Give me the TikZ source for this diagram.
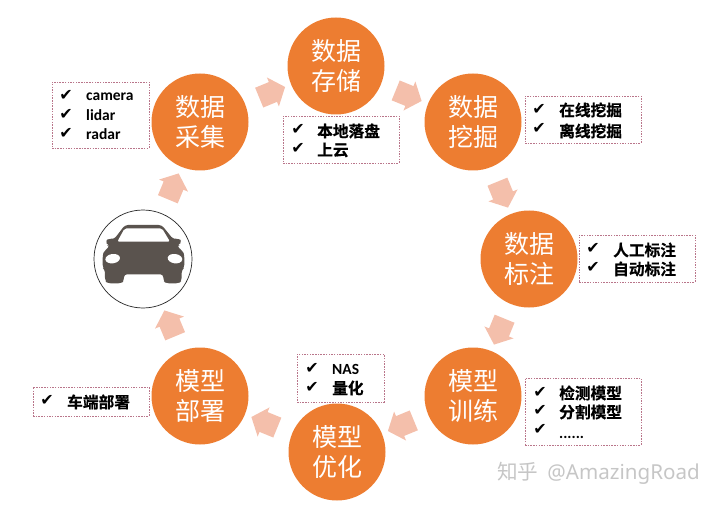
\documentclass[tikz,border=0pt]{standalone}
\usepackage{fontspec}
\usetikzlibrary{shapes.arrows,calc}
\setmainfont{Carlito}
\newfontfamily\cjkfont{Noto Sans CJK SC}[BoldFont={Noto Sans CJK SC Bold},BoldFeatures={FakeBold=0.6}]
\newfontfamily\checkfont{DejaVu Sans}
\newfontfamily\wmfont{Noto Sans}
\definecolor{stepfill}{HTML}{ED7D31}
\definecolor{arrowfill}{HTML}{F4BFAB}
\definecolor{boxline}{HTML}{B9758A}
\definecolor{carfill}{HTML}{5A534E}
\definecolor{wmgray}{HTML}{C6C6C6}
\tikzset{
  x=1pt,y=-1pt,
  stepnode/.style={circle,fill=stepfill,text=white,minimum size=97pt,inner sep=0pt,align=center,
    font=\cjkfont\fontsize{25}{30}\selectfont},
  listbox/.style={draw=boxline,densely dashed,dash pattern=on 1.5pt off 1.2pt,line width=0.6pt,inner sep=0pt,fill=white},
  tick/.style={inner sep=0pt,font=\checkfont\fontsize{16}{16}\selectfont},
  itemcn/.style={anchor=west,inner sep=0pt,font=\cjkfont\bfseries\fontsize{15.7}{16}\selectfont},
  itemen/.style={anchor=west,inner sep=0pt,font=\bfseries\fontsize{15.5}{16}\selectfont},
  flowarrow/.style={single arrow,fill=arrowfill,inner xsep=0pt,inner ysep=10.5pt,minimum width=31pt,minimum height=28pt,
    single arrow head extend=5pt,single arrow tip angle=100}
}
\newcommand{\flowstep}[2]{\path let \p1=($(#2)-(#1)$),\n1={atan2(\y1,\x1)} in
  ($(#1)!0.5!(#2)$) node[flowarrow,rotate=\n1] (arr#1) {};}
\begin{document}
\begin{tikzpicture}
\useasboundingbox (0,0) rectangle (720,505);
% list boxes
\node[listbox,minimum width=97pt,minimum height=66pt] (b1) at (100.5,115) {};
\node[listbox,minimum width=116pt,minimum height=47pt] (b2) at (341,139.5) {};
\node[listbox,minimum width=116pt,minimum height=47pt] (b3) at (583,119.5) {};
\node[listbox,minimum width=116pt,minimum height=47pt] (b4) at (637,258.5) {};
\node[listbox,minimum width=116pt,minimum height=67pt] (b5) at (583,411.5) {};
\node[listbox,minimum width=87pt,minimum height=48pt] (b6) at (340.5,378) {};
\node[listbox,minimum width=116pt,minimum height=29pt] (b7) at (91,401.5) {};
% circles
\node[stepnode] (s1) at (200,122) {数据\\采集};
\node[stepnode] (s2) at (336,66) {数据\\存储};
\node[stepnode] (s3) at (473,122) {数据\\挖掘};
\node[stepnode] (s4) at (529,259) {数据\\标注};
\node[stepnode] (s5) at (473,396) {模型\\训练};
\node[stepnode] (s6) at (337,452) {模型\\优化};
\node[stepnode] (s7) at (200,396) {模型\\部署};
\node[circle,draw=black!85,line width=0.7pt,fill=white,minimum size=98pt,inner sep=0pt] (car) at (143,259) {};
% arrows
\flowstep{car}{s1}
\flowstep{s1}{s2}
\flowstep{s2}{s3}
\flowstep{s3}{s4}
\flowstep{s4}{s5}
\flowstep{s5}{s6}
\flowstep{s6}{s7}
\flowstep{s7}{car}
% car icon
\begin{scope}[shift={(80,170)},x=0.3333pt,y=-0.3333pt]
  \fill[carfill,rounded corners=3pt] (135,165) -- (245,165) -- (280,208) -- (296,205) -- (306,214) -- (296,226)
     -- (290,228) -- (308,243) -- (313,255) -- (313,293) -- (305,300) -- (305,332) -- (297,340) -- (258,340) -- (250,332)
     -- (250,313) -- (132,313) -- (132,332) -- (124,340) -- (83,340) -- (75,332) -- (75,300) -- (68,293) -- (68,255)
     -- (73,243) -- (90,228) -- (84,226) -- (76,214) -- (86,205) -- (102,208) -- cycle;
  \fill[white,rounded corners=2pt] (134,175) -- (246,175) -- (270,215) -- (112,215) -- cycle;
  \fill[white,rotate around={8:(98,266)}] (98,266) ellipse (22 and 14);
  \fill[white,rotate around={-8:(285,266)}] (285,266) ellipse (22 and 14);
\end{scope}
% list 1
\node[tick] (c11) at (66,95) {✔};
\node[tick] (c12) at (66,114) {✔};
\node[tick] (c13) at (66,133) {✔};
\node[itemen] (t11) at (86,97) {camera};
\node[itemen] (t12) at (86,115) {lidar};
\node[itemen] (t13) at (86,134) {radar};
% list 2
\node[tick] (c21) at (298,129) {✔};
\node[tick] (c22) at (298,148) {✔};
\node[itemcn] (t21) at (317,131) {本地落盘};
\node[itemcn] (t22) at (317,150) {上云};
% list 3
\node[tick] (c31) at (539,109) {✔};
\node[tick] (c32) at (539,128) {✔};
\node[itemcn] (t31) at (559,110) {在线挖掘};
\node[itemcn] (t32) at (559,131) {离线挖掘};
% list 4
\node[tick] (c41) at (593,248) {✔};
\node[tick] (c42) at (593,267) {✔};
\node[itemcn] (t41) at (613,250) {人工标注};
\node[itemcn] (t42) at (613,269) {自动标注};
% list 5
\node[tick] (c51) at (540,392) {✔};
\node[tick] (c52) at (540,410) {✔};
\node[tick] (c53) at (540,429) {✔};
\node[itemcn] (t51) at (559,393) {检测模型};
\node[itemcn] (t52) at (559,412) {分割模型};
\node[itemen,anchor=base west] (t53) at (559,438) {......};
% list 6
\node[tick] (c61) at (312,368) {✔};
\node[tick] (c62) at (312,387) {✔};
\node[itemen] (t61) at (332,369) {NAS};
\node[itemcn] (t62) at (332,388) {量化};
% list 7
\node[tick] (c71) at (47,400) {✔};
\node[itemcn] (t71) at (67,402) {车端部署};
% watermark
\node[anchor=west,inner sep=0pt,text=wmgray,font=\fontsize{20.6}{22}\selectfont] (wm) at (497,473) {{\cjkfont 知乎}\hspace{9pt}{\wmfont @AmazingRoad}};
\end{tikzpicture}
\end{document}
